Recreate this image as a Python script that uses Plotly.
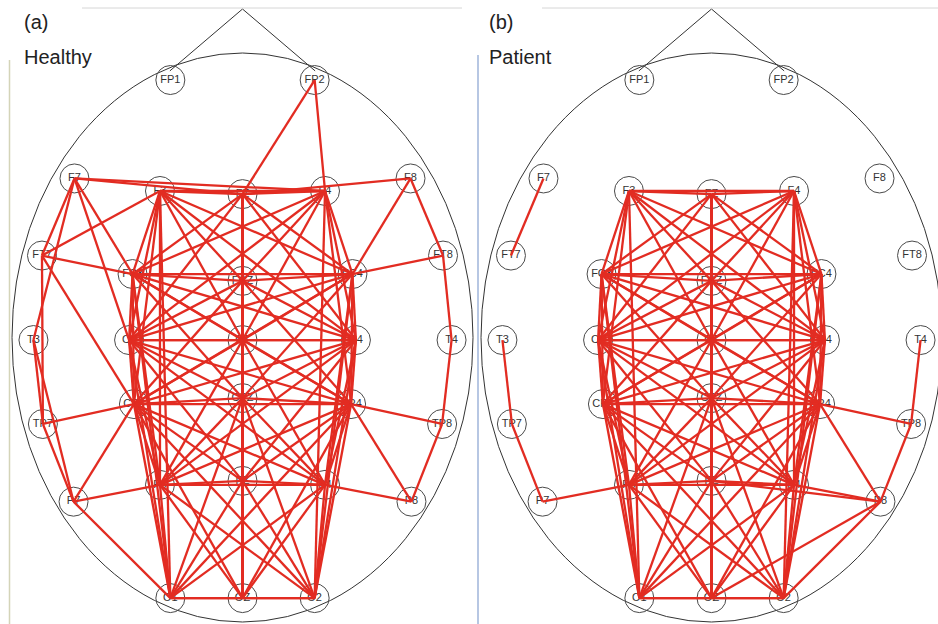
import plotly.graph_objects as go

# Electrode montage (extended 10-20), positions in head units:
# head outline is the unit ellipse, x to the right, y towards the nose.
names = ["FP1", "FP2", "F7", "F3", "FZ", "F4", "F8",
         "FT7", "FC3", "FCZ", "FC4", "FT8",
         "T3", "C3", "CZ", "C4", "T4",
         "TP7", "CP3", "CPZ", "CP4", "TP8",
         "P7", "P3", "PZ", "P4", "P8",
         "O1", "OZ", "O2"]
pos_x = [-0.313, 0.313, -0.729, -0.358, 0.0, 0.358, 0.729,
         -0.870, -0.477, 0.0, 0.477, 0.870,
         -0.907, -0.492, 0.0, 0.492, 0.907,
         -0.866, -0.471, 0.0, 0.471, 0.866,
         -0.733, -0.358, 0.0, 0.358, 0.733,
         -0.313, 0.0, 0.313]
pos_y = [0.905, 0.905, 0.559, 0.515, 0.504, 0.515, 0.559,
         0.288, 0.223, 0.199, 0.223, 0.288,
         -0.009, -0.009, -0.009, -0.009, -0.009,
         -0.304, -0.234, -0.213, -0.234, -0.304,
         -0.577, -0.518, -0.504, -0.518, -0.577,
         -0.916, -0.916, -0.916]

# Connectivity among the inner electrodes (node -> linked nodes)
core_links = {
    "F3":  "FZ F4 FC3 C3 CP3 P3 O1 FCZ CZ FC4 C4",
    "FZ":  "F4 FCZ CZ CPZ PZ OZ FC3 C3 FC4 C4",
    "F4":  "FC4 C4 CP4 P4 O2 FC3 C3 FCZ CZ",
    "FC3": "FCZ FC4 C3 CP3 P3 O1 CZ CPZ C4 CP4",
    "FCZ": "FC4 CZ CPZ PZ OZ C3 CP3 C4 CP4",
    "FC4": "C4 CP4 P4 O2 C3 CP3 CZ CPZ",
    "C3":  "CZ C4 CP3 P3 O1 CPZ PZ CP4 P4",
    "CZ":  "C4 CPZ PZ OZ CP3 P3 CP4 P4",
    "C4":  "CP4 P4 O2 CP3 P3 CPZ PZ",
    "CP3": "CPZ CP4 P3 O1 PZ OZ P4 O2",
    "CPZ": "CP4 PZ OZ P3 O1 P4 O2",
    "CP4": "P4 O2 P3 O1 PZ OZ",
    "P3":  "PZ P4 O1 OZ O2",
    "PZ":  "P4 OZ O1 O2",
    "P4":  "O2 O1 OZ",
    "O1":  "OZ O2",
    "OZ":  "O2",
}

# Links that reach the outer electrodes
healthy_links = [("FP2", "FZ"), ("FP2", "F4"),
                 ("F7", "FZ"), ("F7", "F4"), ("F7", "FT7"),
                 ("F7", "T3"), ("F7", "FC3"), ("F7", "C3"),
                 ("FT7", "F3"), ("FT7", "FC3"), ("FT7", "CP3"), ("FT7", "TP7"),
                 ("T3", "TP7"), ("T3", "P7"),
                 ("TP7", "CP3"), ("TP7", "P7"),
                 ("P7", "P3"), ("P7", "CP3"), ("P7", "O1"),
                 ("F8", "FZ"), ("F8", "FC4"), ("F8", "FT8"),
                 ("FT8", "FC4"), ("FT8", "T4"),
                 ("T4", "TP8"),
                 ("TP8", "CP4"), ("TP8", "P8"),
                 ("P8", "P4"), ("P8", "CP4")]
healthy_missing = [("F4", "P4")]

patient_links = [("F7", "FT7"),
                 ("T3", "TP7"), ("TP7", "P7"), ("P7", "P3"),
                 ("T4", "TP8"), ("TP8", "CP4"), ("TP8", "P8"),
                 ("P8", "CP4"), ("P8", "P4"), ("P8", "PZ"),
                 ("P8", "OZ"), ("P8", "O2")]
patient_missing = [("F3", "P3")]

panel_tags = ["(a)", "(b)"]
panel_titles = ["Healthy", "Patient"]

idx = {n: i for i, n in enumerate(names)}


def link_set(extra, missing):
    gone = {frozenset(p) for p in missing}
    pairs = []
    for a, others in core_links.items():
        for b in others.split():
            if frozenset((a, b)) not in gone:
                pairs.append((a, b))
    return pairs + extra


def segments(pairs):
    xs, ys = [], []
    for a, b in pairs:
        xs += [pos_x[idx[a]], pos_x[idx[b]], None]
        ys += [pos_y[idx[a]], pos_y[idx[b]], None]
    return xs, ys


# Page geometry (pixels) used to place each head
W, H = 938, 624
head_rx, head_ry = 230.5, 284.5
head_cy = 337.5
centers = [242.5, 711.5]
domains = [(0.0, 0.52), (0.48, 1.0)]

fig = go.Figure()
RED = "rgb(226,44,34)"
layout_axes = {}
shapes = []

for k in range(2):
    sfx = "" if k == 0 else str(k + 1)
    xa, ya = "x" + sfx, "y" + sfx
    d0, d1 = domains[k]
    cx = centers[k]
    xr = [(d0 * W - cx) / head_rx, (d1 * W - cx) / head_rx]
    yr = [(head_cy - H) / head_ry, head_cy / head_ry]
    layout_axes["xaxis" + sfx] = dict(domain=[d0, d1], range=xr, visible=False,
                                      anchor=ya, fixedrange=True)
    layout_axes["yaxis" + sfx] = dict(domain=[0, 1], range=yr, visible=False,
                                      anchor=xa, fixedrange=True)

    # Head outline and nose
    shapes.append(dict(type="circle", xref=xa, yref=ya, x0=-1, x1=1, y0=-1, y1=1,
                       line=dict(color="#333333", width=1), layer="below"))
    nx = 0.315
    ny = (1 - nx ** 2) ** 0.5 - 0.012
    apex = (head_cy - 9) / head_ry
    shapes.append(dict(type="path", xref=xa, yref=ya,
                       path=f"M {-nx} {ny} L 0 {apex} L {nx} {ny}",
                       line=dict(color="#333333", width=1), layer="below"))

    # Electrodes
    fig.add_trace(go.Scatter(x=pos_x, y=pos_y, mode="markers", xaxis=xa, yaxis=ya,
                             marker=dict(symbol="circle-open", size=29, color="#4a4a4a",
                                         line=dict(width=1)),
                             hoverinfo="skip", showlegend=False, cliponaxis=False))
    fig.add_trace(go.Scatter(x=pos_x, y=pos_y, mode="text", text=names, xaxis=xa, yaxis=ya,
                             textfont=dict(family="Liberation Sans, Arial", size=11,
                                           color="#333333"),
                             hoverinfo="skip", showlegend=False, cliponaxis=False))

    # Connectivity links
    pairs = link_set(healthy_links, healthy_missing) if k == 0 else \
        link_set(patient_links, patient_missing)
    lx, ly = segments(pairs)
    fig.add_trace(go.Scatter(x=lx, y=ly, mode="lines", xaxis=xa, yaxis=ya,
                             line=dict(color=RED, width=2.3),
                             hoverinfo="skip", showlegend=False))

# Frame lines around the panels
shapes += [
    dict(type="line", xref="paper", yref="paper", x0=82 / W, x1=462 / W,
         y0=1 - 8 / H, y1=1 - 8 / H, line=dict(color="#d6d6d6", width=1)),
    dict(type="line", xref="paper", yref="paper", x0=542 / W, x1=1,
         y0=1 - 8 / H, y1=1 - 8 / H, line=dict(color="#d6d6d6", width=1)),
    dict(type="line", xref="paper", yref="paper", x0=9.5 / W, x1=9.5 / W,
         y0=0, y1=1 - 60 / H, line=dict(color="#d4d4b8", width=1.5)),
    dict(type="line", xref="paper", yref="paper", x0=478 / W, x1=478 / W,
         y0=0, y1=1 - 55 / H, line=dict(color="#9fb4da", width=1.5)),
]

annotations = []
for k in range(2):
    x_left = [22, 487][k]
    annotations.append(dict(text=panel_tags[k], xref="paper", yref="paper",
                            x=x_left / W, y=1 - 22 / H, xanchor="left", yanchor="middle",
                            showarrow=False,
                            font=dict(family="Liberation Sans, Arial", size=20, color="#222222")))
    annotations.append(dict(text=panel_titles[k], xref="paper", yref="paper",
                            x=x_left / W, y=1 - 57 / H, xanchor="left", yanchor="middle",
                            showarrow=False,
                            font=dict(family="Liberation Sans, Arial", size=20, color="#222222")))

fig.update_layout(width=W, height=H, margin=dict(l=0, r=0, t=0, b=0),
                  paper_bgcolor="white", plot_bgcolor="rgba(0,0,0,0)",
                  shapes=shapes, annotations=annotations, **layout_axes)

fig.write_html("out.html", config={"displayModeBar": False})
